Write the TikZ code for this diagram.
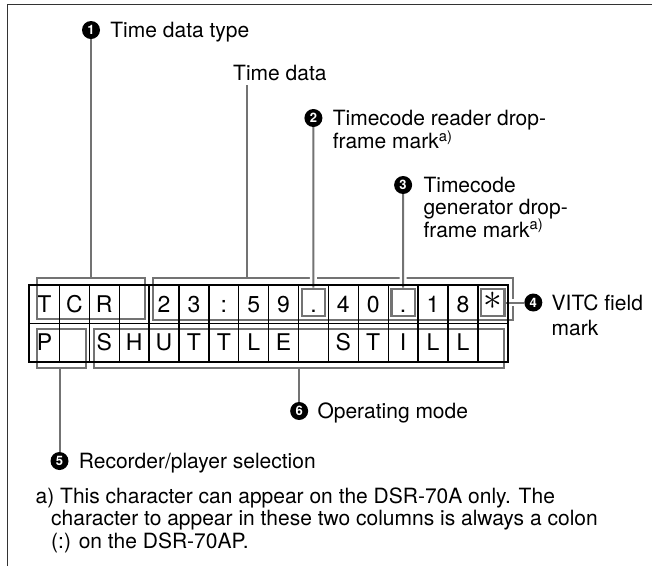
\documentclass[tikz,border=0pt]{standalone}
\usepackage{fontspec}
\setmainfont{TeX Gyre Heros}
\usetikzlibrary{positioning}
\definecolor{linegray}{gray}{0.45}
\tikzset{
  numdot/.style={circle, fill=black, text=white, minimum size=18pt, inner sep=0pt, font=\fontsize{13}{13}\selectfont\bfseries},
  lbl/.style={inner sep=0pt, text height=15pt, text depth=0pt, font=\fontsize{21}{23}\selectfont},
  lcdcell/.style={minimum width=29.89pt, minimum height=38.3pt, inner sep=0pt, text height=16.5pt, text depth=0pt, font=\fontsize{23}{23}\selectfont},
  gbox/.style={draw=linegray, line width=2.2pt, inner sep=0pt},
  lead/.style={draw=linegray, line width=2pt},
  halo/.style={preaction={draw=white, line width=7pt}},
}
\begin{document}
\begin{tikzpicture}[x=1pt, y=-1pt]
\useasboundingbox (0,0) rectangle (652,566);
% Khung
\draw[line width=1.5pt, black!80] (7.3,566) -- (7.3,4.3) -- (652,4.3);

% Hai dong ky tu
\foreach \i/\ch in {0/T,1/C,2/R,3/{},4/2,5/3,6/:,7/5,8/9,9/.,10/4,11/0,12/.,13/1,14/8,15/{\raisebox{2.5pt}{\scalebox{1.5}{$\ast$}}}}
  \node[lcdcell] (a\i) at ({29.5+(\i+0.5)*29.89}, 304.2) {\ch};
\foreach \i/\ch in {0/P,1/{},2/S,3/H,4/U,5/T,6/T,7/L,8/E,9/{},10/S,11/T,12/I,13/L,14/L,15/{}}
  \node[lcdcell] (b\i) at ({29.5+(\i+0.5)*29.89}, 342.5) {\ch};

% Khung xam
\node[gbox, minimum width=107.7pt, minimum height=41pt] (bxTCR) at (91.15,298.5) {};
\node[gbox, minimum width=359.7pt, minimum height=42pt] (bxTime) at (333.15,299) {};
\node[gbox, minimum width=23.3pt, minimum height=27.7pt] (bxDotR) at ([yshift=1.7pt]a9.center) {};
\node[gbox, minimum width=23.3pt, minimum height=27.7pt] (bxDotG) at ([yshift=1.7pt]a12.center) {};
\node[gbox, minimum width=23.3pt, minimum height=27.7pt] (bxStar) at ([yshift=1.7pt]a15.center) {};
\node[gbox, minimum width=48.4pt, minimum height=39pt] (bxP) at (61.5,348.8) {};
\node[gbox, minimum width=409.7pt, minimum height=39pt] (bxMode) at (299.15,348.8) {};

% Chu thich
\node[numdot] (n1) at (91,30) {1};
\node[lbl, right=10pt of n1] (t1) {Time data type};
\draw[lead] (n1) -- (n1 |- bxTCR.north);

\node[lbl, anchor=west] (tdata) at (233,73) {Time data};
\coordinate (tdfoot) at (247,85);
\draw[lead] (tdfoot) -- (tdfoot |- bxTime.north);

\node[numdot] (n2) at (313.4,118) {2};
\node[lbl, right=10pt of n2] (t2a) {Timecode reader drop-};
\node[lbl, below right=8pt and 0pt of t2a.south west] (t2b) {frame mark\textsuperscript{a)}};
\draw[lead, halo] (n2) -- (bxDotR);

\node[numdot] (n3) at (403.1,185) {3};
\node[lbl, right=11pt of n3] (t3a) {Timecode};
\node[lbl, below right=7pt and 0pt of t3a.south west] (t3b) {generator drop-};
\node[lbl, below right=7pt and 0pt of t3b.south west] (t3c) {frame mark\textsuperscript{a)}};
\draw[lead, halo] (n3) -- (bxDotG);

\node[numdot] (n4) at (533.3,302.5) {4};
\node[lbl, right=9pt of n4] (t4a) {VITC field};
\node[lbl, below right=10pt and 0pt of t4a.south west] (t4b) {mark};
\draw[lead, halo] (bxStar) -- (n4);

\node[numdot] (n6) at (299.15,411) {6};
\node[lbl, right=9pt of n6] (t6) {Operating mode};
\draw[lead] (bxMode) -- (n6);

\node[numdot] (n5) at (59.5,461) {5};
\node[lbl, right=10pt of n5] (t5) {Recorder/player selection};
\draw[lead] (n5) -- (n5 |- bxP.south);

% Ghi chu
\node[lbl, anchor=base west] (fn1) at (35.5,503) {a) This character can appear on the DSR-70A only. The};
\node[lbl, below right=7.5pt and 15.5pt of fn1.south west] (fn2) {character to appear in these two columns is always a colon};
\node[lbl, below right=7.5pt and 0pt of fn2.south west] (fn3) {(:) on the DSR-70AP.};

% Luoi o
\foreach \i in {0,...,15} {
  \draw[line width=0.9pt] (a\i.north west) rectangle (a\i.south east);
  \draw[line width=0.9pt] (b\i.north west) rectangle (b\i.south east);
}
\draw[line width=2pt] (a0.north west) rectangle (b15.south east);
\end{tikzpicture}
\end{document}
